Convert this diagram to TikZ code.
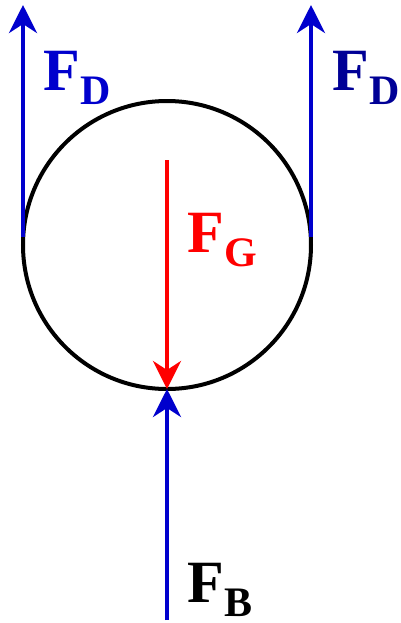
\documentclass[tikz,border=0pt]{standalone}
\usepackage{fontspec}
\setmainfont{Liberation Serif}
\usetikzlibrary{arrows.meta}
\definecolor{forceblue}{RGB}{0,0,205}
\definecolor{darkblue}{RGB}{0,0,150}
\definecolor{forcered}{RGB}{255,0,0}
\newcommand{\forcelabel}[1]{\fontsize{30}{30}\selectfont\textbf{F}\raisebox{-7pt}{\fontsize{21}{21}\selectfont\textbf{#1}}}

\begin{document}
\begin{tikzpicture}[x=0.5pt,y=-0.5pt,>={Stealth[length=14pt,width=14pt,inset=4.5pt]},
  force/.style={->,line width=2pt},
  lbl/.style={inner sep=0pt,anchor=base west}]
\useasboundingbox (0,0) rectangle (401,623);
\node[circle,draw,line width=2pt,minimum size=144pt,inner sep=0pt,outer sep=0pt] (ball) at (167,245) {};
\coordinate (topL) at (23,5);
\coordinate (topR) at (311,5);
\coordinate (centre) at (167,160);
\coordinate (bottom) at (167,620);
\draw[force,forceblue] ([yshift=4pt]ball.west) -- (ball.west |- topL);
\draw[force,forceblue] ([yshift=4pt]ball.east) -- (ball.east |- topR);
\draw[force,forcered] (centre) -- (ball.south);
\draw[force,forceblue] (bottom) -- (ball.south);
\node[lbl,forceblue] (fdL) at (43,90) {\forcelabel{D}};
\node[lbl,darkblue] (fdR) at (332,90) {\forcelabel{D}};
\node[lbl,forcered] (fg) at (187,252) {\forcelabel{G}};
\node[lbl,black] (fb) at (187,602) {\forcelabel{B}};
\end{tikzpicture}
\end{document}
